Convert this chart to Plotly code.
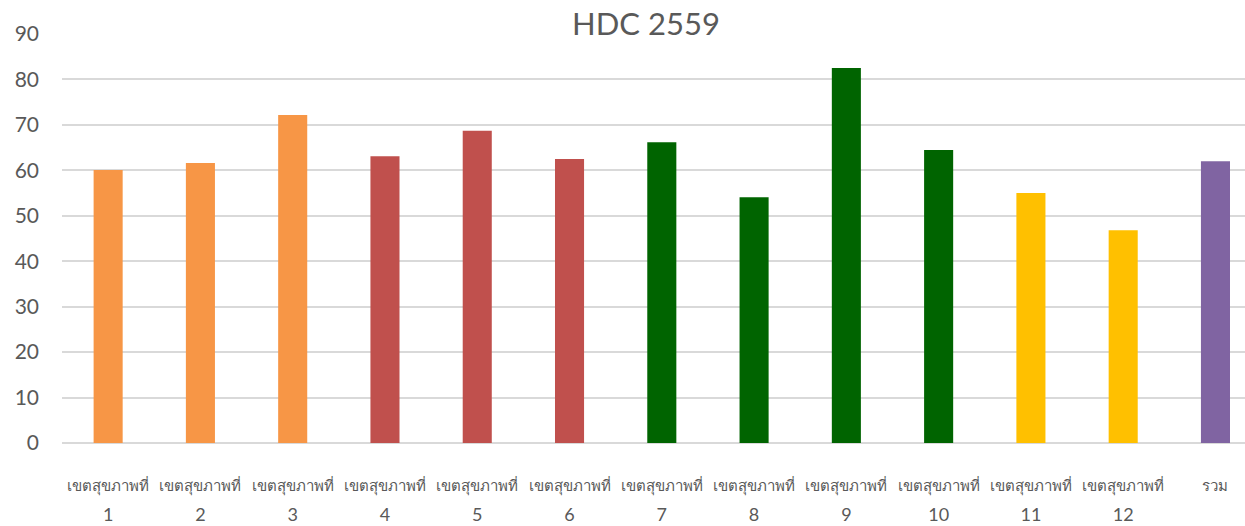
import plotly.graph_objects as go

region_label = "เขตสุขภาพที่"
region_numbers = ["1", "2", "3", "4", "5", "6", "7", "8", "9", "10", "11", "12"]
total_label = "รวม"
values = [60.1, 61.6, 72.2, 63.1, 68.7, 62.5, 66.2, 54.1, 82.5, 64.5, 55.0, 46.8, 62.0]
y_ticks = [0, 10, 20, 30, 40, 50, 60, 70, 80, 90]

bar_colors = ["#F79646", "#F79646", "#F79646", "#C0504D", "#C0504D", "#C0504D",
              "#006400", "#006400", "#006400", "#006400", "#FFC000", "#FFC000", "#8064A2"]

thai_style = "font-size:15px"
num_style = "font-size:18px"
tick_text = [f"<span style='{thai_style}'>{region_label}</span><br><span style='{num_style}'>{n}</span>"
             for n in region_numbers]
tick_text.append(f"<span style='{thai_style}'>{total_label}</span><br><span style='{num_style}'> </span>")

fig = go.Figure(go.Bar(
    x=list(range(len(tick_text))),
    y=values,
    marker=dict(color=bar_colors, line=dict(width=0)),
    width=0.315,
))

W, H = 1245, 526
left, top, bottom = 62.4, 34, 442.7
fig.update_layout(
    width=W, height=H,
    margin=dict(l=left, r=0, t=top, b=H - bottom, autoexpand=False),
    paper_bgcolor="white", plot_bgcolor="white",
    showlegend=False,
    title=dict(text="HDC 2559", x=646 / W, xanchor="center", xref="container",
               y=1 - 24 / H, yanchor="middle", yref="container",
               font=dict(family="Lato, Open Sans, sans-serif", size=31, color="#595959")),
    font=dict(family="Lato, Open Sans, sans-serif", color="#595959"),
)
fig.update_xaxes(
    tickmode="array", tickvals=list(range(len(tick_text))), ticktext=tick_text,
    range=[-0.5, 12.32], showgrid=False, zeroline=False, showline=False,
    ticks="", tickfont=dict(size=23, color="#595959"), ticklabelstandoff=24,
    tickangle=0,
)
fig.update_yaxes(
    range=[0, 90], tickvals=y_ticks, showgrid=True, gridcolor="#D9D9D9", gridwidth=1.5,
    zeroline=True, zerolinecolor="#D9D9D9", zerolinewidth=1.5, showline=False,
    ticks="", tickfont=dict(size=21, color="#595959"), ticklabelstandoff=22,
)

fig.write_html("out.html", config={"displayModeBar": False},
               post_script="document.body.style.margin='0';")
